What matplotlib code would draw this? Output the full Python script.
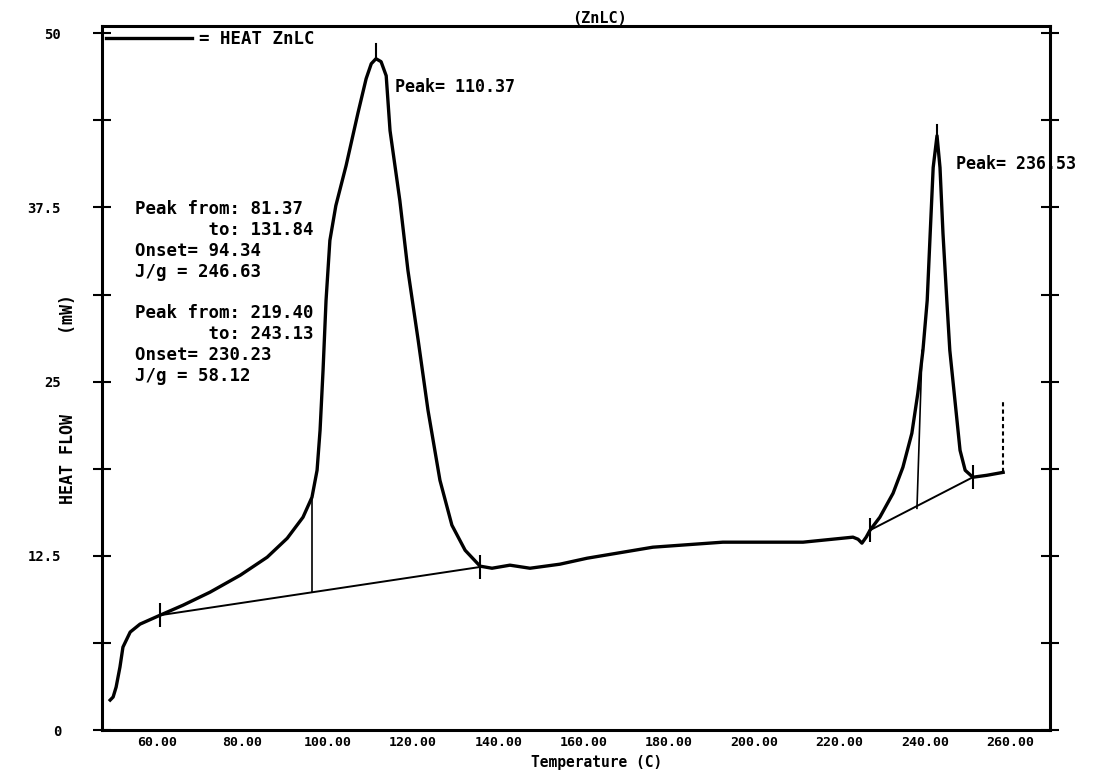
import matplotlib
matplotlib.use("Agg")
import matplotlib.pyplot as plt
import numpy as np

# heat flow trace (temperature in C, heat flow in mW)
temp = [49.0, 49.7, 50.4, 51.3, 52.0, 53.7, 56.0, 60.7, 66.1, 72.4,
        79.5, 85.8, 90.5, 94.2, 96.3, 97.5, 98.2, 98.9, 99.6, 100.5,
        101.9, 104.3, 107.1, 109.0, 110.2, 111.3, 112.5, 113.7, 114.6, 116.9,
        118.8, 121.2, 123.5, 126.3, 129.1, 132.2, 135.7, 138.5, 142.7, 147.4,
        154.4, 160.8, 176.2, 192.6, 211.4, 223.1, 224.3, 225.2, 226.2, 227.1,
        229.4, 232.5, 234.8, 236.9, 238.3, 239.5, 240.5, 241.2, 241.9, 242.8,
        243.5, 244.2, 245.1, 245.8, 247.0, 248.2, 249.4, 251.2, 254.5, 258.3]
heat = [2.15, 2.37, 3.08, 4.52, 5.95, 7.03, 7.60, 8.24, 8.96, 9.89,
        11.11, 12.40, 13.76, 15.27, 16.70, 18.64, 21.51, 25.81, 30.82, 35.13,
        37.63, 40.50, 44.30, 46.74, 47.81, 48.17, 47.96, 46.95, 43.01, 37.99,
        32.97, 27.96, 22.94, 17.92, 14.70, 12.90, 11.76, 11.61, 11.83, 11.61,
        11.90, 12.33, 13.12, 13.48, 13.48, 13.84, 13.69, 13.41, 13.84, 14.34,
        15.27, 16.99, 18.85, 21.29, 24.16, 27.24, 30.82, 35.63, 40.36, 42.65,
        40.36, 35.63, 30.82, 27.24, 23.66, 20.07, 18.64, 18.14, 18.28, 18.49]

# integration baselines, onset lines and limit markers
base1_t = [60.7, 135.7]
base1_v = [8.24, 11.70]
onset1_t = [96.3, 96.3]
onset1_v = [9.90, 16.70]
base2_t = [227.1, 251.2]
base2_v = [14.34, 18.14]
onset2_t = [238.1, 239.3]
onset2_v = [15.91, 27.24]
peak_t = [111.3, 242.8]
peak_v = [48.17, 42.65]
peak_top = [49.25, 43.40]
end_t = [258.3, 258.3]
end_v = [18.49, 23.66]

peak_labels = ["Peak= 110.37", "Peak= 236.53"]
results = ("Peak from: 81.37\n"
           "       to: 131.84\n"
           "Onset= 94.34\n"
           "J/g = 246.63\n"
           "\n"
           "Peak from: 219.40\n"
           "       to: 243.13\n"
           "Onset= 230.23\n"
           "J/g = 58.12")

xticks = [60, 80, 100, 120, 140, 160, 180, 200, 220, 240, 260]
yticks = [0, 12.5, 25, 37.5, 50]
ytick_labels = ["0", "12.5", "25", "37.5", "50"]

plt.rcParams['font.family'] = ['DejaVu Sans Mono']
plt.rcParams['font.weight'] = 'bold'
plt.rcParams['axes.labelweight'] = 'bold'
plt.rcParams['axes.titleweight'] = 'bold'

fig = plt.figure(figsize=(10.96, 7.70), dpi=100)
ax = fig.add_axes([0.0931, 0.0519, 0.865, 0.914])

ax.plot(temp, heat, color='black', lw=2.4, label="= HEAT ZnLC")
ax.plot(base1_t, base1_v, color='black', lw=1.4)
ax.plot(base2_t, base2_v, color='black', lw=1.4)
ax.plot(onset1_t, onset1_v, color='black', lw=1.2)
ax.plot(onset2_t, onset2_v, color='black', lw=1.2)
ax.plot(base1_t + base2_t, base1_v + base2_v, ls='none', marker='|',
        ms=17, mew=1.5, color='black')
for t, v0, v1 in zip(peak_t, peak_v, peak_top):
    ax.plot([t, t], [v0, v1], color='black', lw=1.5)
ax.plot(end_t, end_v, color='black', lw=1.5, ls=(0, (2, 1.5)))

for t, v, s in zip(peak_t, peak_v, peak_labels):
    ax.text(t + 4.5, v - 2.0, s, fontsize=12, va='center', ha='left')
ax.text(54.8, 38.0, results, fontsize=12.5, va='top', ha='left', linespacing=1.2)

ax.set_xlim(47.1, 269.3)
ax.set_ylim(0, 50.5)
ax.set_xticks(xticks)
ax.set_xticklabels(["%.2f" % t for t in xticks])
ax.set_yticks(yticks)
ax.set_yticklabels(ytick_labels)
ax.set_yticks(np.arange(6.25, 50, 12.5), minor=True)
ax.tick_params(axis='x', length=0, pad=4, labelsize=9.5)
ax.tick_params(axis='y', which='both', direction='inout', length=13, width=1.5,
               left=True, right=True, pad=23, labelsize=10)
for sp in ax.spines.values():
    sp.set_linewidth(2.2)

ax.set_xlabel("Temperature (C)", fontsize=10.5)
ax.xaxis.set_label_coords(0.522, -0.036)
ax.set_ylabel("HEAT FLOW        (mW)", fontsize=12)
ax.yaxis.set_label_coords(-0.026, 0.47)
ax.set_title("(ZnLC)", fontsize=11, pad=1, x=0.525)

ax.legend(loc='upper left', frameon=False, handlelength=5, handletextpad=0.4,
          borderaxespad=0.1, borderpad=0.1, fontsize=12.5)

fig.savefig("out.png", dpi=100)
